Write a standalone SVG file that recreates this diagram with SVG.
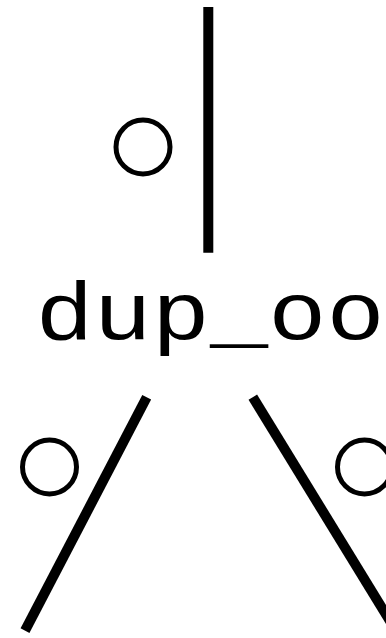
<svg xmlns="http://www.w3.org/2000/svg" width="386" height="638" viewBox="0 0 386 638">
  <style>
    .edge { stroke: #000; stroke-width: 10; fill: none; }
    .port { stroke: #000; stroke-width: 5; fill: none; }
    .label { font-family: "Liberation Mono", "Courier New", monospace; font-size: 97px; fill: #000; }
  </style>
  <rect width="386" height="638" fill="#fff"/>
  <g id="connectors">
    <g id="edge-top">
      <line class="edge" x1="208.3" y1="7" x2="208.3" y2="252.7"/>
      <circle class="port" cx="143" cy="147" r="27"/>
    </g>
    <g id="edge-left">
      <line class="edge" x1="146.7" y1="397.3" x2="25" y2="630.6"/>
      <circle class="port" cx="49.5" cy="467" r="27"/>
    </g>
    <g id="edge-right">
      <line class="edge" x1="252.8" y1="397.2" x2="395.5" y2="630"/>
      <circle class="port" cx="364.5" cy="467" r="27"/>
    </g>
  </g>
  <g id="node-dup_oo">
    <text class="label" transform="translate(210,339) scale(1,0.85)" x="0" y="0" text-anchor="middle">dup_oo</text>
  </g>
</svg>
